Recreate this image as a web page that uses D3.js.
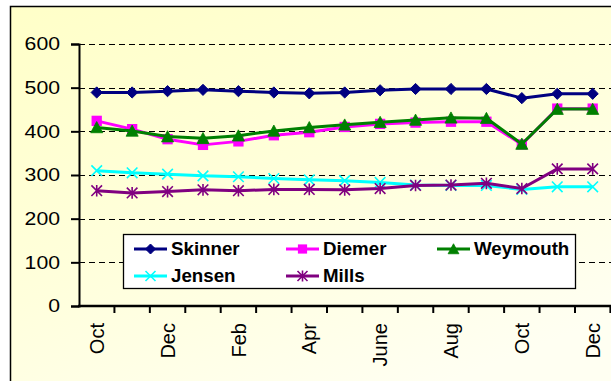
<!DOCTYPE html>
<html>
<head>
<meta charset="utf-8">
<script src="https://cdn.jsdelivr.net/npm/d3@7"></script>
<style>
  html, body { margin: 0; padding: 0; background: #fff; }
  svg { display: block; }
  text { font-family: "Liberation Sans", Arial, sans-serif; fill: #000; }
</style>
</head>
<body>
<svg id="chart" width="611" height="381"></svg>
<script>
// Month categories along the x axis (Oct through the following year's Dec)
const months = ["Oct", "Nov", "Dec", "Jan", "Feb", "Mar", "Apr", "May", "June", "July", "Aug", "Sep", "Oct", "Nov", "Dec"];
const yTicks = [0, 100, 200, 300, 400, 500, 600];

// Monthly values per plant
const skinner  = [489, 489, 492, 495, 492, 489, 487, 489, 494, 497, 497, 497, 476, 486, 486];
const diemer   = [424, 405, 382, 369, 377, 391, 398, 410, 417, 420, 422, 422, 370, 452, 452];
const weymouth = [409, 401, 388, 384, 390, 401, 409, 415, 421, 426, 431, 430, 371, 451, 451];
const jensen   = [310, 305, 302, 298, 296, 292, 289, 287, 283, 277, 276, 276, 267, 273, 273];
const mills    = [264, 259, 262, 266, 264, 267, 267, 266, 269, 276, 277, 281, 269, 314, 314];

const seriesNames = ["Skinner", "Diemer", "Weymouth", "Jensen", "Mills"];
const seriesValues = [skinner, diemer, weymouth, jensen, mills];
const seriesColors = ["#000080", "#FF00FF", "#008000", "#00FFFF", "#800080"];
const seriesMarkers = ["diamond", "square", "triangle", "x", "star"];

const svg = d3.select("#chart");

// Chart area: soft yellow gradient inside a thin black frame
const defs = svg.append("defs");
const grad = defs.append("linearGradient").attr("id", "bg")
  .attr("x1", "0%").attr("y1", "0%").attr("x2", "60%").attr("y2", "100%");
grad.append("stop").attr("offset", "0%").attr("stop-color", "#FFFFC8");
grad.append("stop").attr("offset", "55%").attr("stop-color", "#FFFFDC");
grad.append("stop").attr("offset", "100%").attr("stop-color", "#FFFFF2");

svg.append("rect")
  .attr("x", 10.5).attr("y", 6.5).attr("width", 620).attr("height", 400)
  .attr("fill", "url(#bg)").attr("stroke", "#000").attr("stroke-width", 1.5);

const plot = { left: 79, right: 610.4, top: 44, bottom: 306 };

const x = d3.scaleBand()
  .domain(d3.range(months.length))
  .range([plot.left, plot.right])
  .padding(0);
const cx = i => x(i) + x.bandwidth() / 2;

const y = d3.scaleLinear().domain([0, 600]).range([plot.bottom, plot.top]);

// Dashed gridlines
svg.append("g").selectAll("line")
  .data(yTicks.filter(v => v > 0))
  .join("line")
  .attr("x1", plot.left).attr("x2", 611)
  .attr("y1", d => Math.round(y(d)) + 0.5).attr("y2", d => Math.round(y(d)) + 0.5)
  .attr("stroke", "#000").attr("stroke-width", 1)
  .attr("stroke-dasharray", "6,4");

// Y axis
const yAxis = svg.append("g")
  .attr("transform", `translate(${plot.left},0)`)
  .call(d3.axisLeft(y).tickValues(yTicks).tickSize(8).tickPadding(11).tickFormat(d3.format("d")));
yAxis.select(".domain").attr("stroke", "#000").attr("stroke-width", 2);
yAxis.selectAll(".tick line").attr("stroke", "#000").attr("stroke-width", 2);
yAxis.selectAll(".tick text")
  .attr("font-size", 18)
  .attr("font-family", "Liberation Sans, Arial, sans-serif")
  .each(function () {
    const t = d3.select(this);
    const tx = +t.attr("x");
    t.attr("x", null).attr("transform", `translate(${tx},0) scale(1.18,1)`);
  });

// X axis: boundary ticks between months, labels on every other month
const xAxis = svg.append("g").attr("transform", `translate(0,${plot.bottom})`);
xAxis.append("line")
  .attr("x1", plot.left - 1).attr("x2", 611)
  .attr("y1", 0).attr("y2", 0)
  .attr("stroke", "#000").attr("stroke-width", 2.5);
const boundaries = d3.range(months.length + 1).map(i => i < months.length ? x(i) : x(i - 1) + x.bandwidth());
xAxis.selectAll("line.tk").data(boundaries.slice(1)).join("line")
  .attr("class", "tk")
  .attr("x1", d => d).attr("x2", d => d)
  .attr("y1", 0).attr("y2", 7)
  .attr("stroke", "#000").attr("stroke-width", 2);
xAxis.selectAll("text").data(d3.range(months.length).filter(i => i % 2 === 0)).join("text")
  .attr("transform", i => `translate(${cx(i)},17) rotate(-90)`)
  .attr("text-anchor", "end")
  .attr("dy", "0.36em")
  .attr("font-size", 20)
  .text(i => months[i]);

// Marker shapes
function drawMarker(g, type, color, size) {
  const s = size;
  if (type === "diamond") {
    g.append("path").attr("d", `M0,${-s}L${s},0L0,${s}L${-s},0Z`).attr("fill", color).attr("stroke", color).attr("stroke-width", 1);
  } else if (type === "square") {
    const h = s * 0.92;
    g.append("rect").attr("x", -h).attr("y", -h).attr("width", 2 * h).attr("height", 2 * h).attr("fill", color);
  } else if (type === "triangle") {
    g.append("path").attr("d", `M0,${-s * 1.05}L${s * 1.08},${s * 0.95}L${-s * 1.08},${s * 0.95}Z`).attr("fill", color).attr("stroke", color).attr("stroke-width", 0.8);
  } else if (type === "x") {
    g.append("path").attr("d", `M${-s},${-s}L${s},${s}M${s},${-s}L${-s},${s}`).attr("stroke", color).attr("stroke-width", 1.6);
  } else if (type === "star") {
    g.append("path").attr("d", `M${-s},${-s}L${s},${s}M${s},${-s}L${-s},${s}M0,${-s * 1.1}L0,${s * 1.1}`).attr("stroke", color).attr("stroke-width", 1.6);
  }
}

// Series lines and markers
const line = d3.line().x((d, i) => cx(i)).y(d => y(d));
seriesValues.forEach((vals, k) => {
  const g = svg.append("g");
  g.append("path")
    .attr("d", line(vals))
    .attr("fill", "none")
    .attr("stroke", seriesColors[k])
    .attr("stroke-width", 3)
    .attr("stroke-linejoin", "round");
  vals.forEach((v, i) => {
    const m = g.append("g").attr("transform", `translate(${cx(i)},${y(v)})`);
    drawMarker(m, seriesMarkers[k], seriesColors[k], seriesMarkers[k] === "x" || seriesMarkers[k] === "star" ? 5.3 : 5.6);
  });
});

// Legend
const legend = svg.append("g");
legend.append("rect")
  .attr("x", 123.5).attr("y", 234.5).attr("width", 452).attr("height", 54)
  .attr("fill", "#fff").attr("stroke", "#000").attr("stroke-width", 1.3);
const legendCols = [134, 286, 437];
const legendRows = [249, 276];
seriesNames.forEach((name, k) => {
  const col = k % 3, row = Math.floor(k / 3);
  const lx = legendCols[col], ly = legendRows[row];
  const item = legend.append("g");
  item.append("line")
    .attr("x1", lx).attr("x2", lx + 33)
    .attr("y1", ly).attr("y2", ly)
    .attr("stroke", seriesColors[k]).attr("stroke-width", 3);
  const m = item.append("g").attr("transform", `translate(${lx + 16.5},${ly})`);
  drawMarker(m, seriesMarkers[k], seriesColors[k], seriesMarkers[k] === "x" || seriesMarkers[k] === "star" ? 5 : 5);
  item.append("text")
    .attr("transform", `translate(${lx + 37},${ly}) scale(1.07,1)`)
    .attr("dy", "0.36em")
    .attr("font-size", 17.5)
    .attr("font-weight", "bold")
    .text(name);
});
</script>
</body>
</html>
